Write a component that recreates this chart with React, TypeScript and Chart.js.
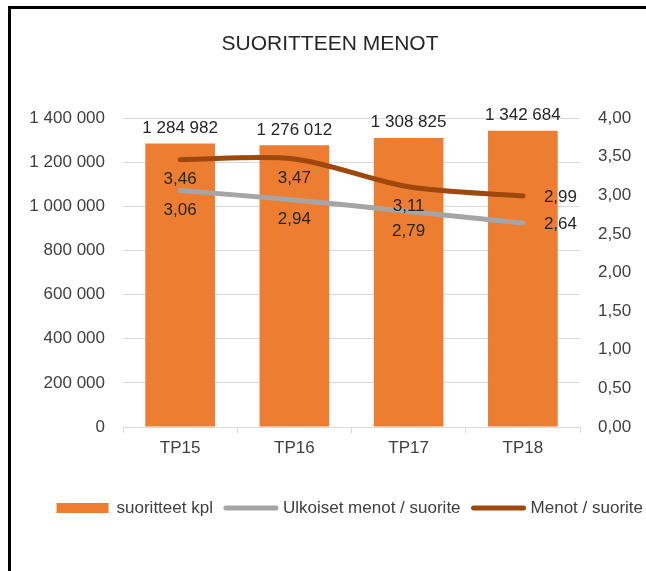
import React, { useEffect, useRef } from 'react';
import { Chart, registerables } from 'chart.js';

Chart.register(...registerables);

// ---- data ----
const chartTitle = 'SUORITTEEN MENOT';
const categories = ['TP15', 'TP16', 'TP17', 'TP18'];
const suoritteetKpl = [1284982, 1276012, 1308825, 1342684];
const ulkoisetMenotPerSuorite = [3.06, 2.94, 2.79, 2.64];
const menotPerSuorite = [3.46, 3.47, 3.11, 2.99];
const seriesLabels = ['suoritteet kpl', 'Ulkoiset menot / suorite', 'Menot / suorite'];
const leftAxisMax = 1400000;
const leftAxisStep = 200000;
const rightAxisMax = 4;
const rightAxisStep = 0.5;

// ---- styles ----
const FONT = '"Liberation Sans", Arial, sans-serif';
const BAR_COLOR = '#ED7D31';
const GRAY_COLOR = '#A5A5A5';
const BROWN_COLOR = '#9E480E';
const GRID_COLOR = '#D9D9D9';
const TEXT_COLOR = '#404040';
const LABEL_COLOR = '#262626';

const CANVAS_W = 638;
const CANVAS_H = 562;

const fmtInt = (v: number) => String(Math.round(v)).replace(/\B(?=(\d{3})+(?!\d))/g, ' ');
const fmtDec = (v: number) => v.toFixed(2).replace('.', ',');

const titlePlugin = {
  id: 'customTitle',
  afterDraw(chart: any) {
    const ctx = chart.ctx;
    ctx.save();
    ctx.font = `21px ${FONT}`;
    ctx.fillStyle = LABEL_COLOR;
    ctx.textAlign = 'center';
    ctx.textBaseline = 'middle';
    ctx.fillText(chartTitle, chart.width / 2, 35);
    ctx.restore();
  },
};

const dataLabelPlugin = {
  id: 'dataLabels',
  afterDatasetsDraw(chart: any) {
    const ctx = chart.ctx;
    ctx.save();
    ctx.font = `17px ${FONT}`;
    ctx.fillStyle = LABEL_COLOR;
    chart.data.datasets.forEach((ds: any, di: number) => {
      const meta = chart.getDatasetMeta(di);
      meta.data.forEach((el: any, i: number) => {
        const v = ds.data[i];
        if (ds.type === 'bar') {
          ctx.textAlign = 'center';
          ctx.textBaseline = 'bottom';
          ctx.fillText(fmtInt(v), el.x, el.y - 7);
        } else {
          const last = i === meta.data.length - 1;
          if (last) {
            ctx.textAlign = 'left';
            ctx.textBaseline = 'middle';
            ctx.fillText(fmtDec(v), el.x + 21, el.y + 1);
          } else {
            ctx.textAlign = 'center';
            ctx.textBaseline = 'top';
            ctx.fillText(fmtDec(v), el.x, el.y + 11);
          }
        }
      });
    });
    ctx.restore();
  },
};

const legendPlugin = {
  id: 'customLegend',
  afterDraw(chart: any) {
    const ctx = chart.ctx;
    ctx.save();
    ctx.font = `17px ${FONT}`;
    const symW = 56;
    const gapBefore = 4;
    const gapAfter = 10;
    const items = chart.data.datasets.map((ds: any) => ({
      text: ds.label,
      type: ds.type,
      color: ds.type === 'bar' ? ds.backgroundColor : ds.borderColor,
      w: ctx.measureText(ds.label).width,
    }));
    const total = items.reduce((s: number, it: any) => s + symW + gapBefore + it.w, 0) + gapAfter * (items.length - 1);
    let x = chart.width - 6 - total;
    const cy = 499;
    items.forEach((it: any) => {
      if (it.type === 'bar') {
        ctx.fillStyle = it.color;
        ctx.fillRect(x, cy - 5, symW - 4, 10);
      } else {
        ctx.strokeStyle = it.color;
        ctx.lineWidth = 5;
        ctx.lineCap = 'round';
        ctx.beginPath();
        ctx.moveTo(x + 3, cy);
        ctx.lineTo(x + symW - 3, cy);
        ctx.stroke();
      }
      x += symW + gapBefore;
      ctx.fillStyle = TEXT_COLOR;
      ctx.textAlign = 'left';
      ctx.textBaseline = 'middle';
      ctx.fillText(it.text, x, cy);
      x += it.w + gapAfter;
    });
    ctx.restore();
  },
};

export default function App() {
  const ref = useRef<HTMLCanvasElement | null>(null);

  useEffect(() => {
    if (!ref.current) return;
    const chart = new Chart(ref.current, {
      type: 'bar',
      data: {
        labels: categories,
        datasets: [
          {
            type: 'bar',
            label: seriesLabels[0],
            data: suoritteetKpl,
            yAxisID: 'y',
            backgroundColor: BAR_COLOR,
            categoryPercentage: 1,
            barPercentage: 0.61,
            order: 2,
          } as any,
          {
            type: 'line',
            label: seriesLabels[1],
            data: ulkoisetMenotPerSuorite,
            yAxisID: 'y1',
            borderColor: GRAY_COLOR,
            backgroundColor: GRAY_COLOR,
            borderWidth: 5,
            borderCapStyle: 'round',
            borderJoinStyle: 'round',
            pointRadius: 0,
            tension: 0.3,
            order: 1,
          } as any,
          {
            type: 'line',
            label: seriesLabels[2],
            data: menotPerSuorite,
            yAxisID: 'y1',
            borderColor: BROWN_COLOR,
            backgroundColor: BROWN_COLOR,
            borderWidth: 5,
            borderCapStyle: 'round',
            borderJoinStyle: 'round',
            pointRadius: 0,
            tension: 0.3,
            order: 0,
          } as any,
        ],
      },
      options: {
        responsive: false,
        animation: false,
        layout: { padding: { top: 109, bottom: 104, left: 0, right: 0 } },
        plugins: {
          legend: { display: false },
          title: { display: false },
          tooltip: { enabled: false },
        },
        scales: {
          x: {
            type: 'category',
            offset: true,
            grid: {
              display: true,
              drawOnChartArea: false,
              offset: true,
              tickLength: 6,
              color: GRID_COLOR,
            },
            border: { display: true, color: GRID_COLOR, width: 1 },
            ticks: { color: TEXT_COLOR, font: { family: FONT, size: 17 }, padding: 5 },
            afterFit: (s: any) => { s.height = 40; },
          },
          y: {
            position: 'left',
            min: 0,
            max: leftAxisMax,
            ticks: {
              stepSize: leftAxisStep,
              color: TEXT_COLOR,
              font: { family: FONT, size: 17 },
              padding: 18,
              callback: (v: any) => fmtInt(Number(v)),
            },
            grid: { color: GRID_COLOR, drawTicks: false },
            border: { display: false },
            afterFit: (s: any) => { s.width = 112; },
          },
          y1: {
            position: 'right',
            min: 0,
            max: rightAxisMax,
            ticks: {
              stepSize: rightAxisStep,
              color: TEXT_COLOR,
              font: { family: FONT, size: 17 },
              padding: 18,
              callback: (v: any) => fmtDec(Number(v)),
            },
            grid: { drawOnChartArea: false, drawTicks: false },
            border: { display: false },
            afterFit: (s: any) => { s.width = CANVAS_W - 569; },
          },
        },
      } as any,
      plugins: [titlePlugin, dataLabelPlugin, legendPlugin],
    });
    return () => chart.destroy();
  }, []);

  return (
    <div style={{ position: 'fixed', left: 0, top: 0, width: 646, height: 571, overflow: 'hidden', background: '#fff' }}>
      <div
        style={{
          position: 'absolute',
          left: 8,
          top: 6,
          borderLeft: '3px solid #000',
          borderTop: '3px solid #000',
          width: CANVAS_W,
          height: CANVAS_H,
        }}
      >
        <canvas ref={ref} width={CANVAS_W} height={CANVAS_H} style={{ display: 'block', width: CANVAS_W, height: CANVAS_H }} />
      </div>
    </div>
  );
}
